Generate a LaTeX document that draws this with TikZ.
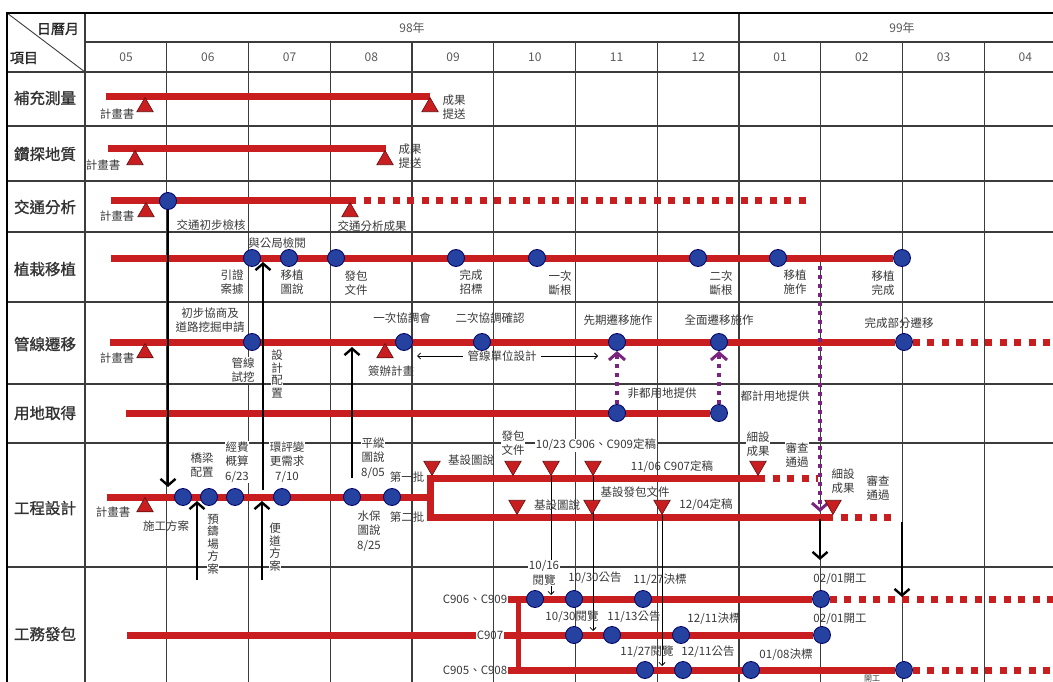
\documentclass[tikz,border=0pt]{standalone}
\usepackage{fontspec}
\setmainfont{Noto Sans CJK TC}
\newfontfamily\rowfont[FakeBold=1.2]{Noto Sans CJK TC}
\usepackage{tikz}
\usetikzlibrary{arrows.meta,positioning,shapes.geometric,backgrounds}
\definecolor{barred}{RGB}{200,30,32}
\definecolor{msblue}{RGB}{38,66,160}
\definecolor{mspurple}{RGB}{122,36,128}
\definecolor{gridgray}{RGB}{60,60,60}

\begin{document}
\begin{tikzpicture}[x=1pt,y=-1pt,
	every node/.style={inner sep=0.6pt,text=black!78},
	lab/.style={align=center,font=\fontsize{11.5}{14.5}\selectfont},
	labw/.style={lab,fill=white},
	vlab/.style={align=center,fill=white,font=\fontsize{11.5}{12.5}\selectfont},
	rowlab/.style={font=\rowfont\fontsize{15.5}{18}\selectfont,text=black!80},
	hd/.style={font=\rowfont\fontsize{14}{16}\selectfont,text=black!85},
	month/.style={font=\fontsize{12}{14}\selectfont,text=black!65},
	ms/.style={circle,draw=black!60!blue,fill=msblue,line width=0.8pt,minimum size=17pt,inner sep=0pt},
	tri/.style={regular polygon,regular polygon sides=3,draw=black!50!barred,fill=barred,line width=0.6pt,minimum size=19pt,inner sep=0pt},
	tridn/.style={tri,shape border rotate=180},
	bar/.style={draw=barred,line width=7pt},
	dotbar/.style={bar,dash pattern=on 7pt off 7.5pt},
	gridline/.style={draw=gridgray,line width=1.2pt},
	bigarr/.style={line width=2.8pt,-{Straight Barb[length=6.5pt,width=15pt,line width=2.4pt]}},
	thinarr/.style={line width=0.8pt,-{Straight Barb[length=3pt,width=6pt]}},
	purarr/.style={draw=mspurple,line width=4pt,dash pattern=on 4pt off 5pt,-{Straight Barb[length=7pt,width=16pt,line width=3pt]}}]
	\path[use as bounding box] (0,0) rectangle (1053,682);

	\node[hd] (hdate) at (58,29) {日曆月};
	\node[hd] (hitem) at (24,58) {項目};
	\node[month] (y98) at (412,28) {98年};
	\node[month] (y99) at (902,28) {99年};
	\foreach \m [count=\k from 0] in {05,06,07,08,09,10,11,12,01,02,03,04}
		\node[month] (m\k) at ({126+81.75*\k},57) {\m};

	\node[rowlab] (row1) at (45,98) {補充測量};
	\node[rowlab] (row2) at (45,154) {鑽探地質};
	\node[rowlab] (row3) at (45,207) {交通分析};
	\node[rowlab] (row4) at (45,269) {植栽移植};
	\node[rowlab] (row5) at (45,344) {管線遷移};
	\node[rowlab] (row6) at (45,413) {用地取得};
	\node[rowlab] (row7) at (45,508) {工程設計};
	\node[rowlab] (row8) at (45,634) {工務發包};

	\node[tri] (r1a) at (145,107) {};
	\node[lab] (r1al) at (117,114) {計畫書};
	\node[tri] (r1b) at (430,107) {};
	\node[lab] (r1bl) at (454,107) {成果\\提送};

	\node[tri] (r2a) at (135,160) {};
	\node[lab] (r2al) at (103,165) {計畫書};
	\node[tri] (r2b) at (385,160) {};
	\node[lab] (r2bl) at (410,156) {成果\\提送};

	\node[ms] (r3a) at (168,201) {};
	\node[tri] (r3p) at (146,212) {};
	\node[lab] (r3pl) at (117,216) {計畫書};
	\node[tri] (r3b) at (350,212) {};
	\node[lab] (r3bl) at (372,226) {交通分析成果};
	\node[lab] (r3al) at (211,225) {交通初步檢核};

	\node[ms] (r4a) at (252,258) {};
	\node[ms] (r4b) at (289,258) {};
	\node[ms] (r4c) at (336,258) {};
	\node[ms] (r4d) at (456,258) {};
	\node[ms] (r4e) at (537,258) {};
	\node[ms] (r4f) at (698,258) {};
	\node[ms] (r4g) at (778,258) {};
	\node[ms] (r4h) at (902,258) {};
	\node[lab] (r4x) at (277,243) {與公局檢閱};
	\node[lab] (r4al) at (232,282) {引證\\案據};
	\node[lab] (r4bl) at (292,282) {移植\\圖說};
	\node[lab] (r4cl) at (356,283) {發包\\文件};
	\node[lab] (r4dl) at (471,282) {完成\\招標};
	\node[lab] (r4el) at (560,283) {一次\\斷根};
	\node[lab] (r4fl) at (721,283) {二次\\斷根};
	\node[lab] (r4gl) at (795,282) {移植\\施作};
	\node[lab] (r4hl) at (883,283) {移植\\完成};

	\node[ms] (r5a) at (252,342) {};
	\node[ms] (r5b) at (404,342) {};
	\node[ms] (r5c) at (482,342) {};
	\node[ms] (r5d) at (617,342) {};
	\node[ms] (r5e) at (719,342) {};
	\node[ms] (r5f) at (904,342) {};
	\node[tri] (r5p) at (145,353) {};
	\node[lab] (r5pl) at (117,358) {計畫書};
	\node[tri] (r5q) at (385,353) {};
	\node[lab] (r5ql) at (391,371) {簽辦計畫};
	\node[lab] (r5al) at (210,320) {初步協商及\\道路挖掘申請};
	\node[labw] (r5am) at (243,370) {管線\\試挖};
	\node[vlab] (r5v) at (277,374) {設\\計\\配\\置};
	\node[lab] (r5bl) at (402,318) {一次協調會};
	\node[lab] (r5cl) at (490,318) {二次協調確認};
	\node[lab] (r5dl) at (618,320) {先期遷移施作};
	\node[lab] (r5el) at (719,320) {全面遷移施作};
	\node[lab] (r5fl) at (899,323) {完成部分遷移};
	\node[lab] (r5u) at (502,356) {管線單位設計};

	\node[ms] (r6a) at (617,413) {};
	\node[ms] (r6b) at (719,413) {};
	\node[lab] (r6al) at (662,393) {非都用地提供};
	\node[lab] (r6bl) at (775,396) {都計用地提供};

	\node[ms] (r7a) at (183,497) {};
	\node[ms] (r7b) at (209,497) {};
	\node[ms] (r7c) at (235,497) {};
	\node[ms] (r7d) at (282,497) {};
	\node[ms] (r7e) at (352,497) {};
	\node[ms] (r7f) at (392,497) {};
	\node[tri] (r7p) at (145,507) {};
	\node[lab] (r7pl) at (113,512) {計畫書};
	\node[lab] (r7al) at (166,526) {施工方案};
	\node[tridn] (r7t1) at (432,466) {};
	\node[tridn] (r7t2) at (513,466) {};
	\node[tridn] (r7t3) at (551,466) {};
	\node[tridn] (r7t4) at (593,466) {};
	\node[tridn] (r7t5) at (758,466) {};
	\node[tridn] (r7b1) at (517,505) {};
	\node[tridn] (r7b2) at (592,505) {};
	\node[tridn] (r7b3) at (662,505) {};
	\node[tridn] (r7b4) at (833,505) {};
	\node[lab] (r7bl) at (202,465) {橋梁\\配置};
	\node[labw] (r7cl) at (237,462) {經費\\概算\\6/23};
	\node[labw] (r7dl) at (287,462) {環評變\\更需求\\7/10};
	\node[labw] (r7el) at (373,458) {平縱\\圖說\\8/05};
	\node[lab] (r7fl) at (369,531) {水保\\圖說\\8/25};
	\node[lab] (r7g1) at (407,477) {第一批};
	\node[lab] (r7g2) at (407,517) {第二批};
	\node[lab] (r7t1l) at (471,460) {基設圖說};
	\node[labw] (r7t2l) at (513,443) {發包\\文件};
	\node[labw] (r7t3l) at (596,445) {10/23 C906、C909定稿};
	\node[lab] (r7t4l) at (672,467) {11/06 C907定稿};
	\node[lab] (r7b1l) at (557,505) {基設圖說};
	\node[lab] (r7b2l) at (635,492) {基設發包文件};
	\node[lab] (r7b3l) at (706,505) {12/04定稿};
	\node[labw] (r7t5l) at (758,444) {細設\\成果};
	\node[labw] (r7hl) at (797,455) {審查\\通過};
	\node[lab] (r7b4l) at (843,481) {細設\\成果};
	\node[lab] (r7il) at (878,488) {審查\\通過};
	\node[vlab] (r7v1) at (213,544) {預\\鑄\\場\\方\\案};
	\node[vlab] (r7v2) at (275,547) {便\\道\\方\\案};

	\node[lab] (r8x) at (475,599) {C906、C909};
	\node[lab] (r8n) at (490,635) {C907};
	\node[lab] (r8y) at (475,670) {C905、C908};
	\node[ms] (r8a) at (535,599) {};
	\node[ms] (r8b) at (574,599) {};
	\node[ms] (r8c) at (643,599) {};
	\node[ms] (r8d) at (821,599) {};
	\node[ms] (r8e) at (574,635) {};
	\node[ms] (r8f) at (612,635) {};
	\node[ms] (r8g) at (681,635) {};
	\node[ms] (r8h) at (822,635) {};
	\node[ms] (r8i) at (645,670) {};
	\node[ms] (r8j) at (683,670) {};
	\node[ms] (r8k) at (751,670) {};
	\node[ms] (r8l) at (904,670) {};
	\node[labw] (r8al) at (544,573) {10/16\\閱覽};
	\node[lab] (r8bl) at (595,578) {10/30公告};
	\node[lab] (r8cl) at (660,580) {11/27決標};
	\node[lab] (r8dl) at (840,579) {02/01開工};
	\node[lab] (r8el) at (572,617) {10/30閱覽};
	\node[lab] (r8fl) at (634,617) {11/13公告};
	\node[lab] (r8gl) at (714,619) {12/11決標};
	\node[lab] (r8hl) at (840,619) {02/01開工};
	\node[lab] (r8il) at (647,652) {11/27閱覽};
	\node[lab] (r8jl) at (708,652) {12/11公告};
	\node[lab] (r8kl) at (786,655) {01/08決標};
	\node[lab,font=\fontsize{8}{9}\selectfont] (r8ll) at (872,678.5) {開工};

	\begin{scope}[on background layer]
		\draw[gridline] (85,42) -- (1053,42);
		\foreach \y in {72,126,181,232,302,384,443,567}
			\draw[gridline] (7,\y) -- (1053,\y);
		\foreach \k in {1,...,11}
			\draw[gridline] ({85+81.75*\k},42) -- ({85+81.75*\k},682);
		\draw[gridline] (85,13) -- (85,682);
		\draw[gridline] (739,13) -- (739,42);
		\draw[gridline,line width=0.9pt] (7,13) -- (85,72);
		\draw[line width=2.4pt] (7,682) -- (7,13) -- (1053,13);

		\coordinate (r1s) at (106,97);
		\coordinate (r1t) at (430,97);
		\coordinate (r2s) at (108,149);
		\coordinate (r2t) at (386,149);
		\coordinate (r3s) at (111,201);
		\coordinate (r3m) at (349,201);
		\coordinate (r3t) at (812,201);
		\coordinate (r4s) at (111,258);
		\coordinate (r5s) at (110,342);
		\coordinate (r5t) at (1060,342);
		\coordinate (r6s) at (126,413);
		\coordinate (r7s) at (107,497);
		\coordinate (r7j) at (430,497);
		\coordinate (r7u) at (430,478);
		\coordinate (r7l) at (430,517);
		\coordinate (r7um) at (758,478);
		\coordinate (r7ut) at (818,478);
		\coordinate (r7lm) at (826,517);
		\coordinate (r7lt) at (898,517);
		\coordinate (r8s) at (127,635);
		\coordinate (r8k1) at (518,599);
		\coordinate (r8k2) at (518,670);
		\coordinate (r8t1) at (1060,599);
		\coordinate (r8t3) at (1060,670);

		\draw[bar] (r1s) -- (r1t);
		\draw[bar] (r2s) -- (r2t);
		\draw[bar] (r3s) -- (r3m);
		\draw[dotbar] (r3m) -- (r3t);
		\draw[bar] (r4s) -- (r4h);
		\draw[bar] (r5s) -- (r5f);
		\draw[dotbar] (r5f) -- (r5t);
		\draw[bar] (r6s) -- (r6b);
		\draw[bar] (r7s) -- (r7j);
		\draw[bar,line join=miter] (r7um) -- (r7u) -- (r7l) -- (r7lm);
		\draw[dotbar] (r7um) -- (r7ut);
		\draw[dotbar] (r7lm) -- (r7lt);
		\draw[bar] (r8s) -- (r8n);
		\draw[bar] (r8n) -- (r8h);
		\draw[bar] (r8x) -- (r8d);
		\draw[dotbar] (r8d) -- (r8t1);
		\draw[bar] (r8y) -- (r8l);
		\draw[dotbar] (r8l) -- (r8t3);
		\draw[bar,line width=5pt] (r8k1) -- (r8k2);

		\coordinate (q1) at (168,487);
		\coordinate (q2s) at (263,490);
		\coordinate (q2e) at (263,262);
		\coordinate (q3s) at (197,580);
		\coordinate (q3e) at (197,501);
		\coordinate (q4s) at (262,580);
		\coordinate (q4e) at (262,501);
		\coordinate (q5s) at (352,478);
		\coordinate (q5e) at (352,347);
		\coordinate (q6s) at (820,519);
		\coordinate (q6e) at (820,560);
		\coordinate (q7s) at (902,522);
		\coordinate (q7e) at (902,597);
		\draw[bigarr] (r3a) -- (q1);
		\draw[bigarr] (q2s) -- (q2e);
		\draw[bigarr] (q3s) -- (q3e);
		\draw[bigarr] (q4s) -- (q4e);
		\draw[bigarr] (q5s) -- (q5e);
		\draw[bigarr] (q6s) -- (q6e);
		\draw[bigarr] (q7s) -- (q7e);

		\coordinate (r5ul) at (417,356);
		\coordinate (r5ur) at (598,356);
		\draw[thinarr,shorten <=4pt] (r5u.west) -- (r5ul);
		\draw[thinarr,shorten <=4pt] (r5u.east) -- (r5ur);
		\coordinate (v1) at (551,595);
		\coordinate (v2) at (593,631);
		\coordinate (v3) at (662,666);
		\draw[thinarr] (r7t3) -- (v1);
		\draw[thinarr] (r7t4) -- (v2);
		\draw[thinarr] (r7b3) -- (v3);

		\coordinate (u1) at (617,351);
		\coordinate (u2) at (719,351);
		\coordinate (u3s) at (820,266);
		\coordinate (u3e) at (820,512);
		\draw[purarr] (r6a) -- (u1);
		\draw[purarr] (r6b) -- (u2);
		\draw[purarr] (u3s) -- (u3e);
	\end{scope}
\end{tikzpicture}
\end{document}
